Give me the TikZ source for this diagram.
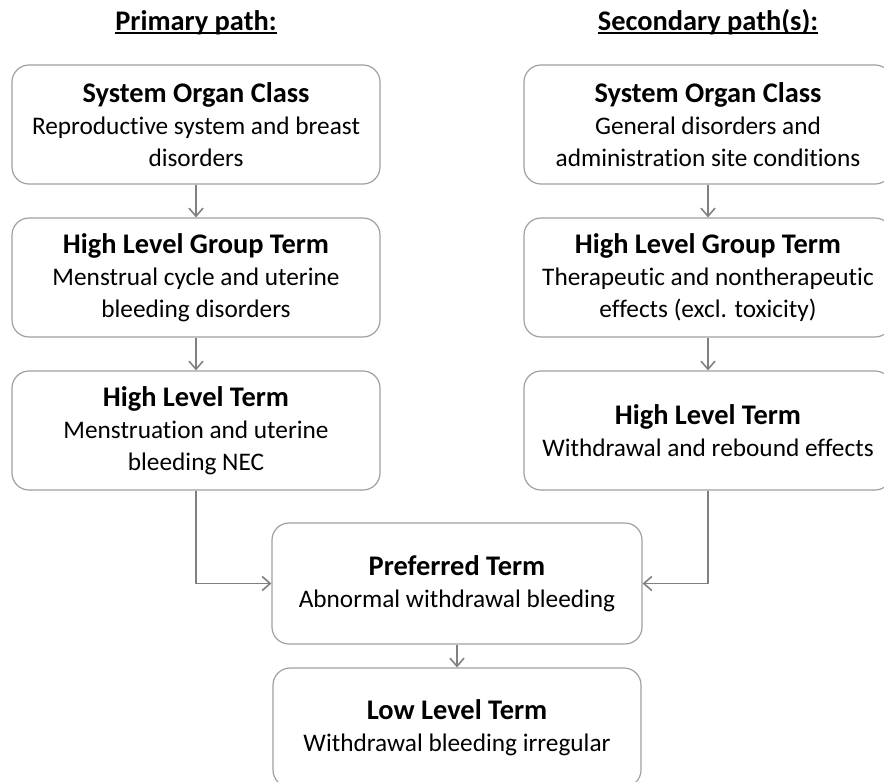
\documentclass[tikz,border=0pt]{standalone}
\usepackage{fontspec}
\setmainfont{Carlito}[Ligatures=NoCommon]
\usetikzlibrary{arrows.meta}
\definecolor{boxline}{HTML}{A0A0A0}
\definecolor{linkline}{HTML}{808080}
% heading text with a rule just below the baseline
\newcommand{\headul}[1]{\setbox0=\hbox{#1}\rlap{\rule[-4pt]{\wd0}{1.6pt}}\box0}
\newcommand{\termtitle}[1]{{\fontsize{28.4}{33}\selectfont\bfseries #1}}
\begin{document}
\begin{tikzpicture}[x=1pt,y=-1pt,
  termbox/.style={draw=boxline, line width=1.2pt, rounded corners=17pt,
    minimum width=368pt, minimum height=119pt, align=center, inner sep=0pt,
    font=\fontsize{25.3}{32}\selectfont},
  heading/.style={anchor=base, font=\fontsize{28.4}{33}\selectfont\bfseries},
  link/.style={draw=linkline, line width=1.6pt,
    -{Straight Barb[length=8pt,width=14pt]}}]
\useasboundingbox (0,0) rectangle (884,782);
\clip (0,0) rectangle (884,782);

% column headings
\node[heading] (hprim) at (196,30) {\headul{Primary path:}};
\node[heading] (hsec) at (708,30) {\headul{Secondary path(s):}};

% primary path
\node[termbox] (soc1) at (196,124.5) {\termtitle{System Organ Class}\\Reproductive system and breast\\disorders};
\node[termbox] (hlgt1) at (196,277.5) {\termtitle{High Level Group Term}\\Menstrual cycle and uterine\\bleeding disorders};
\node[termbox] (hlt1) at (196,430.5) {\termtitle{High Level Term}\\Menstruation and uterine\\bleeding NEC};

% secondary path
\node[termbox] (soc2) at (708,124.5) {\termtitle{System Organ Class}\\General disorders and\\administration site conditions};
\node[termbox] (hlgt2) at (708,277.5) {\termtitle{High Level Group Term}\\Therapeutic and nontherapeutic\\effects (excl. toxicity)};
\node[termbox] (hlt2) at (708,430.5) {\termtitle{High Level Term}\\Withdrawal and rebound effects};

% shared terms
\node[termbox, minimum width=370pt, minimum height=121pt] (pt) at (457,583.5) {\termtitle{Preferred Term}\\Abnormal withdrawal bleeding};
\node[termbox] (llt) at (457,727.5) {\termtitle{Low Level Term}\\Withdrawal bleeding irregular};

% connectors
\draw[link] (soc1) -- (hlgt1);
\draw[link] (hlgt1) -- (hlt1);
\draw[link] (soc2) -- (hlgt2);
\draw[link] (hlgt2) -- (hlt2);
\draw[link] (hlt1.south) |- (pt.west);
\draw[link] (hlt2.south) |- (pt.east);
\draw[link] (pt) -- (llt);
\end{tikzpicture}
\end{document}
